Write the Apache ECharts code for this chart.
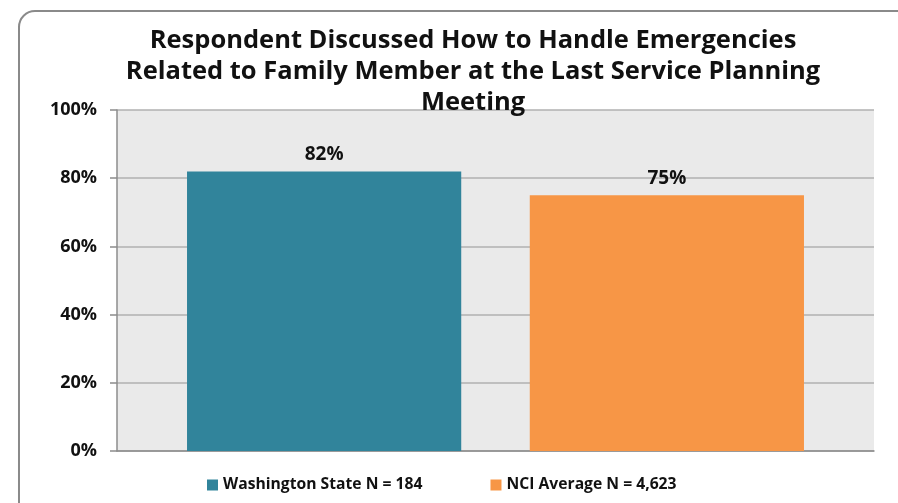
<!DOCTYPE html>
<html>
<head>
<meta charset="utf-8">
<script src="https://cdn.jsdelivr.net/npm/echarts@6/dist/echarts.min.js"></script>
<style>
  html, body { margin: 0; padding: 0; background: #ffffff; }
  #chart { width: 898px; height: 503px; }
</style>
</head>
<body>
<div id="chart"></div>
<script>
// Chart data
const categories = [''];
const seriesNames = ['Washington State N = 184', 'NCI Average N = 4,623'];
const washingtonValues = [82];
const nciValues = [75];
const yTicks = [0, 20, 40, 60, 80, 100];

const FONT = '"Open Sans", "DejaVu Sans", sans-serif';
const colors = ['#31849b', '#f79646'];

const chart = echarts.init(document.getElementById('chart'), null, { renderer: 'canvas' });

const labelStyle = {
  show: true,
  position: 'top',
  distance: 7,
  formatter: p => p.value + '%',
  fontFamily: FONT,
  fontWeight: 'bold',
  fontSize: 19,
  color: '#111'
};

chart.setOption({
  animation: false,
  backgroundColor: '#ffffff',
  color: colors,
  graphic: [{
    type: 'rect',
    shape: { x: 19, y: 11, width: 920, height: 540, r: 16 },
    style: { fill: 'none', stroke: '#8a8a8a', lineWidth: 2 },
    z: -1
  }],
  title: {
    text: 'Respondent Discussed How to Handle Emergencies\nRelated to Family Member at the Last Service Planning\nMeeting',
    left: 468,
    textAlign: 'center',
    top: 20,
    textStyle: {
      fontFamily: FONT,
      fontWeight: 'bold',
      fontSize: 25.5,
      lineHeight: 31,
      color: '#111'
    }
  },
  legend: {
    bottom: 5,
    left: 202,
    itemWidth: 11,
    itemHeight: 11,
    itemGap: 68,
    icon: 'rect',
    textStyle: {
      fontFamily: FONT,
      fontWeight: 'bold',
      fontSize: 15.7,
      color: '#111'
    },
    data: seriesNames
  },
  grid: {
    left: 117,
    right: 24,
    top: 110,
    bottom: 52,
    show: true,
    backgroundColor: '#eaeaea',
    borderWidth: 0
  },
  xAxis: {
    type: 'category',
    data: categories,
    axisLine: { show: true, lineStyle: { color: '#8c8c8c', width: 1.5 } },
    axisTick: { show: false },
    axisLabel: { show: false }
  },
  yAxis: {
    type: 'value',
    min: yTicks[0],
    max: yTicks[yTicks.length - 1],
    interval: 20,
    axisLine: { show: true, lineStyle: { color: '#8c8c8c', width: 1.5 } },
    axisTick: { show: true, length: 7, lineStyle: { color: '#8c8c8c', width: 1.5 } },
    axisLabel: {
      formatter: v => v + '%',
      margin: 20,
      fontFamily: FONT,
      fontWeight: 'bold',
      fontSize: 18,
      color: '#111'
    },
    splitLine: { show: true, lineStyle: { color: '#b0b0b0', width: 1.5 } }
  },
  series: [
    {
      name: seriesNames[0],
      type: 'bar',
      data: washingtonValues,
      barGap: '25%',
      barCategoryGap: '18.5%',
      itemStyle: { color: colors[0] },
      label: labelStyle
    },
    {
      name: seriesNames[1],
      type: 'bar',
      data: nciValues,
      barGap: '25%',
      barCategoryGap: '18.5%',
      itemStyle: { color: colors[1] },
      label: labelStyle
    }
  ]
});
</script>
</body>
</html>
